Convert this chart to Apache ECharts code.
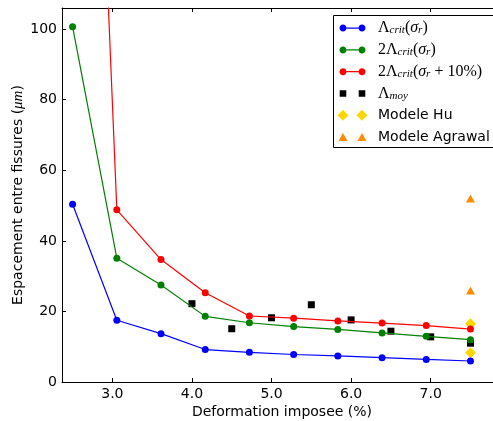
<!DOCTYPE html>
<html><head><meta charset="utf-8">
<script src="https://cdn.jsdelivr.net/npm/echarts@6/dist/echarts.min.js"></script>
<style>html,body{margin:0;padding:0;background:#fff}#c{width:493px;height:421px}</style>
</head><body><div id="c"></div>
<script>
// ---- data ----
const xStrain = [2.5, 3.056, 3.611, 4.167, 4.722, 5.278, 5.833, 6.389, 6.944, 7.5];
const lambdaCrit = [50.4, 17.5, 13.7, 9.2, 8.4, 7.8, 7.4, 6.9, 6.4, 5.95];
const twoLambdaCrit = [100.7, 35.1, 27.5, 18.6, 16.8, 15.7, 14.9, 13.9, 12.95, 12.0];
const twoLambdaCrit10 = [350, 48.8, 34.7, 25.3, 18.7, 18.1, 17.3, 16.7, 16.0, 15.0];
const moyX = [4.0, 4.5, 5.0, 5.5, 6.0, 6.5, 7.0, 7.5];
const moyY = [22.2, 15.1, 18.2, 21.9, 17.6, 14.4, 12.8, 11.0];
const huX = [7.5, 7.5];
const huY = [16.5, 8.3];
const agrX = [7.5, 7.5];
const agrY = [52.0, 25.9];
const xTicks = [3, 4, 5, 6, 7];
const yTicks = [0, 20, 40, 60, 80, 100];
const xLabel = 'Deformation imposee (%)';

// ---- legend icons (two markers per entry) ----
const W = 30, H = 11, c1 = 5.5, c2 = 24.5, cy = 5.5;
const corners = `M0,0 L0.01,0 L0,0.01 Z M${W},${H} L${W-0.01},${H} L${W},${H-0.01} Z `;
function circ(cx, cyy, r) {
  const k = 0.5523 * r;
  return `M${cx-r},${cyy} C${cx-r},${cyy-k} ${cx-k},${cyy-r} ${cx},${cyy-r} C${cx+k},${cyy-r} ${cx+r},${cyy-k} ${cx+r},${cyy} C${cx+r},${cyy+k} ${cx+k},${cyy+r} ${cx},${cyy+r} C${cx-k},${cyy+r} ${cx-r},${cyy+k} ${cx-r},${cyy} Z `;
}
const iconLine = 'path://' + corners + circ(c1, cy, 3.5) + circ(c2, cy, 3.5) + `M9,4.9 L21,4.9 L21,6.1 L9,6.1 Z`;
const iconSq = 'path://' + corners + `M2.2,2.2 L8.8,2.2 L8.8,8.8 L2.2,8.8 Z M21.2,2.2 L27.8,2.2 L27.8,8.8 L21.2,8.8 Z`;
const iconDia = 'path://' + corners + `M5.5,0 L11,5.5 L5.5,11 L0,5.5 Z M24.5,0 L30,5.5 L24.5,11 L19,5.5 Z`;
const iconTri = 'path://' + corners + `M5.5,1.5 L10,9.5 L1,9.5 Z M24.5,1.5 L29,9.5 L20,9.5 Z`;

const legendText = {
  lc: '{m0|Λ}{s|crit}{m|(}{i|σ}{s|r}{m|)}',
  lc2: '{m0|2Λ}{s|crit}{m|(}{i|σ}{s|r}{m|)}',
  lc10: '{m0|2Λ}{s|crit}{m|(}{i|σ}{s|r}{m| + 10%)}',
  moy: '{m0|Λ}{s|moy}',
  hu: '{t0|Modele Hu}',
  agr: '{t0|Modele Agrawal}'
};
const serif = 'Liberation Serif';
const sans = 'DejaVu Sans';

const chart = echarts.init(document.getElementById('c'), null, {renderer: 'canvas'});
const pair = (xs, ys) => xs.map((x, i) => [x, ys[i]]);

const axisCommon = {
  type: 'value', min: 2.367, max: 7.896,
  splitLine: {show: false},
  axisLine: {show: true, onZero: false, lineStyle: {color: '#000', width: 1}},
  axisTick: {show: true, inside: true, length: 4, customValues: xTicks, lineStyle: {color: '#000'}},
};
const option = {
  animation: false,
  backgroundColor: '#fff',
  grid: {left: 62, right: -9, top: 8, bottom: 39, containLabel: false, outerBoundsMode: 'none'},
  graphic: [
    {type: 'rect', z: 3, silent: true,
     shape: {x: 333.5, y: 15.5, width: 200, height: 132},
     style: {fill: '#fff', stroke: null, lineWidth: 0}},
    {type: 'polyline', z: 3, silent: true,
     shape: {points: [[560, 15.5], [333.5, 15.5], [333.5, 147.5], [560, 147.5]]},
     style: {fill: null, stroke: '#000', lineWidth: 1}}
  ],
  xAxis: [
    Object.assign({}, axisCommon, {
      position: 'bottom',
      name: xLabel, nameLocation: 'middle', nameGap: 23, nameMoveOverlap: false,
      nameTextStyle: {fontFamily: sans, fontSize: 14, color: '#000'},
      axisLabel: {customValues: xTicks, formatter: v => v.toFixed(1), margin: 5,
        fontFamily: sans, fontSize: 14, color: '#000'}
    }),
    Object.assign({}, axisCommon, {position: 'top', axisLabel: {show: false}})
  ],
  yAxis: [
    {
      type: 'value', min: 0, max: 106.0, position: 'left',
      splitLine: {show: false},
      axisLine: {show: true, onZero: false, lineStyle: {color: '#000', width: 1}},
      axisTick: {show: true, inside: true, length: 4, customValues: yTicks, lineStyle: {color: '#000'}},
      axisLabel: {customValues: yTicks, formatter: v => String(v), margin: 5,
        fontFamily: sans, fontSize: 14, color: '#000'},
      name: 'Espacement entre fissures ({mu|μm})', nameLocation: 'middle', nameGap: 36,
      nameMoveOverlap: false,
      nameTextStyle: {fontFamily: sans, fontSize: 14, color: '#000',
        rich: {mu: {fontFamily: serif, fontStyle: 'italic', fontSize: 15, color: '#000'}}}
    }
  ],
  legend: {
    orient: 'vertical', left: 333, top: 15.5,
    padding: [4.6, 6, 3.7, 4.5],
    borderWidth: 0,
    backgroundColor: 'transparent',
    itemWidth: W, itemHeight: H, itemGap: 5.8,
    selectedMode: false,
    symbolKeepAspect: true,
    itemStyle: {borderWidth: 0, opacity: 1},
    data: [
      {name: 'lc', icon: iconLine},
      {name: 'lc2', icon: iconLine},
      {name: 'lc10', icon: iconLine},
      {name: 'moy', icon: iconSq},
      {name: 'hu', icon: iconDia},
      {name: 'agr', icon: iconTri}
    ],
    formatter: n => legendText[n],
    textStyle: {
      color: '#000', fontFamily: sans, fontSize: 14, lineHeight: 16,
      rich: {
        m0: {fontFamily: serif, fontSize: 16, lineHeight: 16, color: '#000', padding: [0, 0, 0, 5.5]},
        m: {fontFamily: serif, fontSize: 16, lineHeight: 16, color: '#000'},
        i: {fontFamily: serif, fontSize: 16, lineHeight: 16, fontStyle: 'italic', color: '#000'},
        s: {fontFamily: serif, fontSize: 11, lineHeight: 5, fontStyle: 'italic', verticalAlign: 'bottom', color: '#000'},
        t0: {fontFamily: sans, fontSize: 14, lineHeight: 16, color: '#000', padding: [0, 0, 0, 5.5]}
      }
    }
  },
  series: [
    {name: 'lc', type: 'line', data: pair(xStrain, lambdaCrit), color: '#0000ff',
     symbol: 'circle', symbolSize: 7, lineStyle: {width: 1.2}, itemStyle: {borderWidth: 0, opacity: 1}, silent: true, clip: true},
    {name: 'lc2', type: 'line', data: pair(xStrain, twoLambdaCrit), color: '#008000',
     symbol: 'circle', symbolSize: 7, lineStyle: {width: 1.2}, itemStyle: {borderWidth: 0, opacity: 1}, silent: true, clip: true},
    {name: 'lc10', type: 'line', data: pair(xStrain, twoLambdaCrit10), color: '#ff0000',
     symbol: 'circle', symbolSize: 7, lineStyle: {width: 1.2}, itemStyle: {borderWidth: 0, opacity: 1}, silent: true, clip: true},
    {name: 'moy', type: 'scatter', data: pair(moyX, moyY), color: '#000000',
     symbol: 'rect', symbolSize: 7, itemStyle: {opacity: 1}, silent: true},
    {name: 'hu', type: 'scatter', data: pair(huX, huY), color: '#FFD700',
     symbol: 'diamond', symbolSize: [11, 11], itemStyle: {opacity: 1}, silent: true},
    {name: 'agr', type: 'scatter', data: pair(agrX, agrY), color: '#FF8C00',
     symbol: 'triangle', symbolSize: [9, 8], itemStyle: {opacity: 1}, silent: true}
  ]
};
chart.setOption(option);
</script></body></html>
